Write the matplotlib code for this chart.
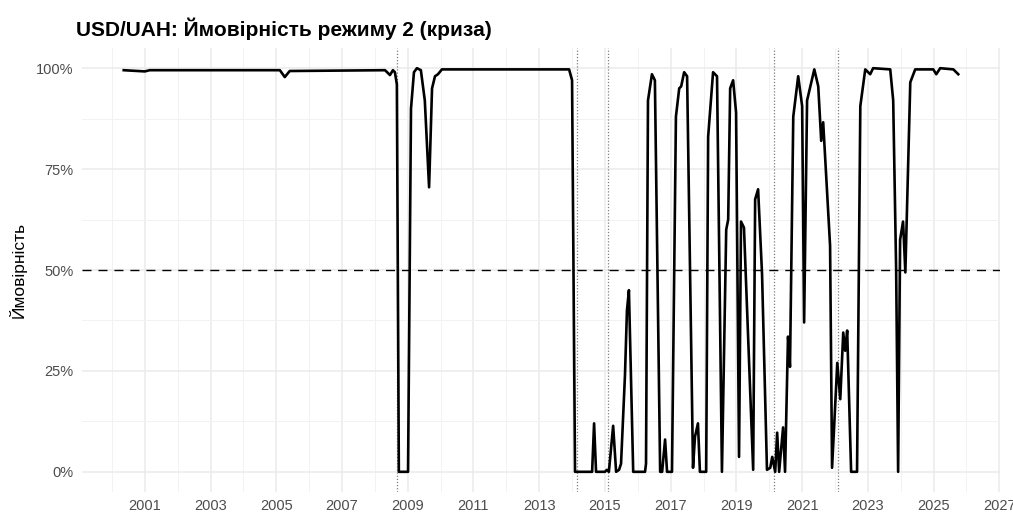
import matplotlib
matplotlib.use("Agg")
import matplotlib.pyplot as plt
from matplotlib.ticker import FixedLocator, FuncFormatter

plt.rcParams['font.family'] = ['Liberation Sans', 'DejaVu Sans']

# regime-2 probability (decimal year, percent)
years = [2000.36, 2001.00, 2001.15, 2005.11, 2005.26, 2005.41, 2008.31, 2008.46, 2008.55,
         2008.61, 2008.67, 2008.73, 2009.01, 2009.10, 2009.19, 2009.28, 2009.40, 2009.52,
         2009.65, 2009.74, 2009.83, 2009.92, 2010.04, 2013.91, 2014.00, 2014.09,
         2014.61, 2014.67, 2014.73, 2015.00, 2015.06, 2015.12, 2015.25, 2015.34, 2015.43,
         2015.49, 2015.61, 2015.67, 2015.73, 2015.86, 2016.22, 2016.25, 2016.31, 2016.43,
         2016.52, 2016.68, 2016.74, 2016.83, 2016.89, 2017.04, 2017.16, 2017.26, 2017.32,
         2017.41, 2017.50, 2017.68, 2017.74, 2017.83, 2017.89, 2018.08, 2018.14, 2018.29,
         2018.41, 2018.56, 2018.69, 2018.75, 2018.81, 2018.90, 2018.99, 2019.08, 2019.14,
         2019.23, 2019.51, 2019.57, 2019.66, 2019.78, 2019.93, 2020.03, 2020.09, 2020.18,
         2020.24, 2020.30, 2020.42, 2020.48, 2020.57, 2020.63, 2020.73, 2020.88, 2021.00,
         2021.06, 2021.15, 2021.37, 2021.49, 2021.58, 2021.64, 2021.85, 2021.91, 2022.07,
         2022.16, 2022.25, 2022.31, 2022.37, 2022.49, 2022.67, 2022.77, 2022.92, 2023.07,
         2023.16, 2023.68, 2023.77, 2023.86, 2023.92, 2023.98, 2024.07, 2024.14, 2024.29,
         2024.44, 2024.99, 2025.08, 2025.20, 2025.60, 2025.75]
prob = [99.5, 99.2, 99.5, 99.5, 97.8, 99.3, 99.5, 98.3, 99.5,
        99.0, 96.0, 0.0, 0.0, 90.0, 99.0, 100.0, 99.5, 92.0,
        70.5, 95.0, 98.0, 98.5, 99.7, 99.7, 97.0, 0.0,
        0.0, 12.0, 0.0, 0.0, 0.5, 0.0, 11.4, 0.0, 0.5,
        2.0, 24.0, 40.0, 45.0, 0.0, 0.0, 2.0, 92.0, 98.5,
        97.0, 0.0, 0.0, 8.0, 0.0, 0.0, 88.0, 95.0, 95.5,
        99.0, 98.0, 1.0, 8.7, 12.0, 0.0, 0.0, 83.0, 99.0,
        98.0, 0.0, 60.0, 62.5, 95.0, 97.0, 89.0, 3.7, 62.0,
        60.5, 0.5, 67.5, 70.0, 49.0, 0.5, 1.0, 3.7, 0.0,
        9.7, 0.0, 11.0, 0.0, 33.5, 26.0, 88.0, 98.0, 90.6,
        37.0, 92.0, 99.7, 95.5, 82.0, 86.6, 56.0, 1.0, 27.0,
        18.0, 34.5, 30.0, 35.0, 0.0, 0.0, 90.6, 99.7, 98.5,
        100.0, 99.7, 92.0, 50.0, 0.0, 57.5, 62.0, 49.4, 96.5,
        99.7, 99.7, 98.5, 100.0, 99.7, 98.5]

# crisis markers (decimal year)
crisis_years = [2008.67, 2014.15, 2015.09, 2020.15, 2022.09]

major_years = list(range(2001, 2028, 2))
minor_years = list(range(2000, 2028, 2))

fig = plt.figure(figsize=(10.13, 5.13), dpi=100)
ax = fig.add_axes([82 / 1013, 1 - 492 / 513, (1000 - 82) / 1013, (492 - 48) / 513])

for c in crisis_years:
    ax.axvline(c, color='#7f7f7f', linestyle=(0, (1, 1.5)), linewidth=0.9, zorder=2)
ax.axhline(50, color='black', linestyle=(0, (6.5, 5)), linewidth=1.0, zorder=2)
ax.plot(years, prob, color='black', linewidth=1.9, solid_joinstyle='round', zorder=3)

span = years[-1] - years[0]
ax.set_xlim(years[0] - 0.05 * span, years[-1] + 0.05 * span)
ax.set_ylim(-5, 105)

ax.xaxis.set_major_locator(FixedLocator(major_years))
ax.xaxis.set_minor_locator(FixedLocator(minor_years))
ax.xaxis.set_major_formatter(FuncFormatter(lambda v, p: f"{int(round(v))}"))
ax.yaxis.set_major_locator(FixedLocator([0, 25, 50, 75, 100]))
ax.yaxis.set_minor_locator(FixedLocator([12.5, 37.5, 62.5, 87.5]))
ax.yaxis.set_major_formatter(FuncFormatter(lambda v, p: f"{int(v)}%"))

ax.grid(True, which='major', color='#ebebeb', linewidth=1.1, zorder=0)
ax.grid(True, which='minor', color='#f2f2f2', linewidth=0.7, zorder=0)
ax.set_axisbelow(True)
for s in ax.spines.values():
    s.set_visible(False)
ax.tick_params(which='both', length=0)
ax.tick_params(axis='x', labelsize=10.5, labelcolor='#4d4d4d', pad=5)
ax.tick_params(axis='y', labelsize=10.5, labelcolor='#4d4d4d', pad=6)

ax.set_ylabel('Ймовірність', fontsize=12.5, color='black', labelpad=7)
fig.text(76 / 1013, 1 - 36 / 513, 'USD/UAH: Ймовірність режиму 2 (криза)',
         fontsize=15, fontweight='bold', ha='left', va='baseline')

fig.savefig('out.png', dpi=100)
